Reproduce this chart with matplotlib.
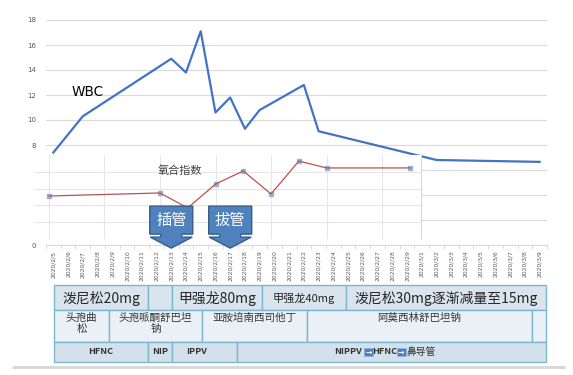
import matplotlib.pyplot as plt
import numpy as np
import pandas as pd
from matplotlib.patches import Polygon, Rectangle
from matplotlib.transforms import ScaledTranslation

plt.rcParams['font.family'] = ['Noto Sans CJK SC', 'DejaVu Sans']

#------------------DATA------------------#

dates = pd.date_range('2020-02-05', '2020-03-09')
date_labels = [f"{d.year}/{d.month}/{d.day}" for d in dates]

wbc_dates = ['2020/2/5', '2020/2/7', '2020/2/13', '2020/2/14', '2020/2/15', '2020/2/16',
             '2020/2/17', '2020/2/18', '2020/2/19', '2020/2/22', '2020/2/23', '2020/3/2', '2020/3/9']
wbc = [7.4, 10.3, 14.9, 13.8, 17.1, 10.6, 11.8, 9.3, 10.8, 12.8, 9.1, 6.8, 6.65]

oi_pos = [0, 4, 5, 6, 7, 8, 9, 10, 13]
oi = [256, 274, 185, 327, 405, 268, 464, 423, 423]

events = [('插管', '2020/2/13'), ('拔管', '2020/2/17')]

row1 = ['泼尼松20mg', '', '甲强龙80mg', '甲强龙40mg', '泼尼松30mg逐渐减量至15mg']
row2 = ['头孢曲\n松', '头孢哌酮舒巴坦\n钠', '亚胺培南西司他丁', '阿莫西林舒巴坦钠', '']
row3 = ['HFNC', 'NIP', 'IPPV', '']
row3_last = ['NIPPV', 'HFNC', '鼻导管']

#------------------LAYOUT------------------#

W, H = 573, 375
fig = plt.figure(figsize=(W / 100, H / 100), dpi=100)

grid_c = '#D9D9D9'
tick_c = '#595959'

# WBC chart
ax = fig.add_axes([46 / W, 1 - 245 / H, 501 / W, 225 / H])
x_wbc = [date_labels.index(d) for d in wbc_dates]
ax.plot(x_wbc, wbc, color='#4472C4', lw=1.6, zorder=3, clip_on=False)
ax.set_xlim(-0.5, len(date_labels) - 0.5)
ax.set_ylim(0, 18)
yt = np.arange(0, 19, 2)
ax.set_yticks(yt)
ax.set_yticklabels(['' if v in (2, 4, 6) else str(v) for v in yt])
ax.set_xticks(range(len(date_labels)))
ax.set_xticklabels(date_labels, rotation=90, fontsize=4.3, color=tick_c,
                   family='DejaVu Sans')
ax.set_xticks(np.arange(-0.5, len(date_labels), 1), minor=True)
ax.tick_params(axis='x', which='major', length=0, pad=4)
ax.tick_params(axis='x', which='minor', length=3, color=grid_c)
ax.tick_params(axis='y', length=0, labelsize=5, labelcolor=tick_c, pad=7)
for lab in ax.get_yticklabels():
    lab.set_family('DejaVu Sans')
ax.grid(axis='y', color=grid_c, lw=0.8)
ax.set_axisbelow(True)
for s in ['left', 'right', 'top']:
    ax.spines[s].set_visible(False)
ax.spines['bottom'].set_color(grid_c)
ax.text(2.35, 12.2, 'WBC', fontsize=9.8, ha='center', va='center',
        family='DejaVu Sans', color='black')

# oxygenation index inset
ax2 = fig.add_axes([35 / W, 1 - 239 / H, 386 / W, 84 / H], zorder=1)
ax2.set_facecolor('white')
ax2.plot(oi_pos, oi, color='#C0504D', lw=0.9, zorder=3)
ax2.plot(oi_pos, oi, ls='none', marker='s', ms=3.5, mfc='#95B3D7', mec='#95B3D7', zorder=2)
ax2.set_xlim(-0.5, 13.4)
ax2.set_ylim(0, 500)
ax2.set_xticks(np.arange(0, 13, 2))
ax2.set_yticks([0, 100, 200, 300, 400])
ax2.tick_params(length=0, labelbottom=False, labelleft=False)
ax2.grid(color='#E6E6E6', lw=0.8)
ax2.set_axisbelow(True)
for s in ['left', 'top', 'bottom']:
    ax2.spines[s].set_visible(False)
ax2.spines['right'].set_color(grid_c)
ax2.text(0.376, 0.82, '氧合指数', transform=ax2.transAxes, fontsize=8,
         color='#404040', ha='center', va='center')

# arrow callouts (shape in pixels, tip at origin)
shape = np.array([(0, 0), (21, 11), (10.5, 11), (10.5, 14), (21.5, 14), (21.5, 42),
                  (-21.5, 42), (-21.5, 14), (-10.5, 14), (-10.5, 11), (-21, 11)]) / 100.0
for txt, d in events:
    i = date_labels.index(d)
    tr = fig.dpi_scale_trans + ScaledTranslation(i, -0.25, ax.transData)
    fig.add_artist(Polygon(shape, closed=True, transform=tr, facecolor='#4F81BD',
                           edgecolor='#385D8A', lw=1, zorder=5))
    fig.text(0, 0.28, txt, transform=tr, color='white', fontsize=11,
             ha='center', va='center', zorder=6)

# treatment table
axt = fig.add_axes([0, 0, 1, 1], zorder=2)
axt.set_xlim(0, W)
axt.set_ylim(H, 0)
axt.axis('off')
axt.patch.set_alpha(0)

border = '#7AB8CF'
rows = [
    (row1, [54, 148, 172, 262, 346, 546], (285, 310), '#D9E4EE', [10, 9, 10, 8, 10]),
    (row2, [54, 109, 202, 307, 532, 546], (310, 342), '#EAF0F5', [7.6, 7.6, 7.6, 7.6, 7.6]),
    (row3, [54, 148, 172, 237, 546], (342, 362), '#D4E1EB', [6.5, 6.5, 6.5, 6.5]),
]
for r, (texts, edges, (y0, y1), fc, sizes) in enumerate(rows):
    for k, txt in enumerate(texts):
        x0, x1 = edges[k], edges[k + 1]
        axt.add_patch(Rectangle((x0, y0), x1 - x0, y1 - y0, facecolor=fc,
                                edgecolor=border, lw=1))
        if not txt:
            continue
        if r == 1:
            axt.text((x0 + x1) / 2, y0 + 2.5, txt, ha='center', va='top',
                     fontsize=sizes[k], color='#333333', linespacing=1.15)
        elif r == 2:
            cx = 197 if txt == 'IPPV' else (x0 + x1) / 2
            axt.text(cx, (y0 + y1) / 2, txt, ha='center', va='center',
                     fontsize=sizes[k], color='#333333', weight='bold')
        else:
            axt.text((x0 + x1) / 2, (y0 + y1) / 2 + 0.5, txt, ha='center', va='center',
                     fontsize=sizes[k], color='#262626')

# last cell of the support row: NIPPV -> HFNC -> 鼻导管
yc = 352
axt.text(362, yc, row3_last[0], ha='right', va='center', fontsize=6.5,
         color='#333333', weight='bold')
axt.text(384.5, yc, row3_last[1], ha='center', va='center', fontsize=6.5,
         color='#333333', weight='bold')
axt.text(407, yc, row3_last[2], ha='left', va='center', fontsize=7,
         color='#333333')
for x0 in [364, 396.5]:
    axt.add_patch(Rectangle((x0, yc - 4), 9, 8, facecolor='#4F81BD',
                            edgecolor='#8DB3E2', lw=0.6))
    axt.text(x0 + 4.5, yc, '→', ha='center', va='center', fontsize=5.5,
             color='white', weight='bold', family='DejaVu Sans')

axt.plot([12, 565], [367, 367], color=grid_c, lw=2.2, solid_capstyle='butt')

fig.savefig('out.png', dpi=100)
